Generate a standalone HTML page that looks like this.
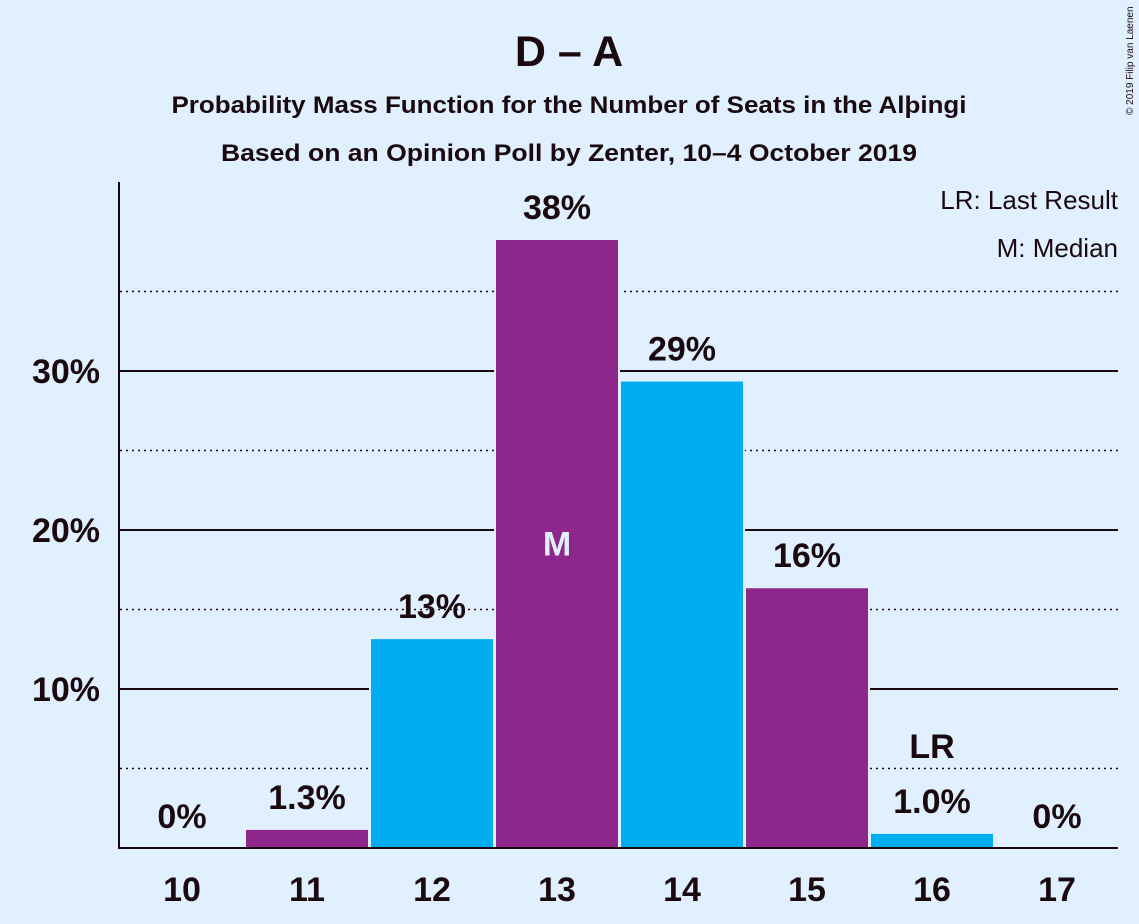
<!DOCTYPE html>
<html><head><meta charset="utf-8"><style>
html,body{margin:0;padding:0;background:#e1f0ff;}
svg{display:block;font-family:"Liberation Sans",sans-serif;}
</style></head><body>
<svg id="chart" width="1139" height="924" viewBox="0 0 1139 924">
<rect width="1139" height="924" fill="#e1f0ff"/>
<text x="569" y="66" text-anchor="middle" font-size="43" font-weight="bold" fill="#1a0a0f">D – A</text>
<text x="569" y="113" text-anchor="middle" font-size="24" font-weight="bold" fill="#1a0a0f" textLength="795" lengthAdjust="spacingAndGlyphs">Probability Mass Function for the Number of Seats in the Alþingi</text>
<text x="569" y="161" text-anchor="middle" font-size="24" font-weight="bold" fill="#1a0a0f" textLength="696" lengthAdjust="spacingAndGlyphs">Based on an Opinion Poll by Zenter, 10–4 October 2019</text>
<text x="1133" y="115" font-size="10" fill="#1a0a0f" transform="rotate(-90 1133 115)">© 2019 Filip van Laenen</text>
<text x="1118" y="209" text-anchor="end" font-size="26" fill="#1a0a0f">LR: Last Result</text>
<text x="1118" y="257" text-anchor="end" font-size="26" fill="#1a0a0f">M: Median</text>
<g id="grid"></g>
<g id="bars"></g>
<g id="labels"></g>
<line x1="119" y1="182" x2="119" y2="849" stroke="#1a0a0f" stroke-width="2"/>
<line x1="118" y1="848" x2="1118" y2="848" stroke="#1a0a0f" stroke-width="2"/>
</svg>
<script>
const categories = [10, 11, 12, 13, 14, 15, 16, 17];
const values = [0, 1.2, 13.2, 38.3, 29.4, 16.4, 0.95, 0];
const valueLabels = ["0%", "1.3%", "13%", "38%", "29%", "16%", "1.0%", "0%"];
const yTicks = [10, 20, 30];
const yTickLabels = ["10%", "20%", "30%"];
const minorTicks = [5, 15, 25, 35];
const medianSeat = 13;
const lastResultSeat = 16;

const NS = "http://www.w3.org/2000/svg";
const y0 = 848, pxPerPct = 15.9;
const yScale = v => y0 - v * pxPerPct;
const xCenter = c => 182 + (c - categories[0]) * 125;
function mk(tag, attrs, parent) {
  const e = document.createElementNS(NS, tag);
  for (const k in attrs) e.setAttribute(k, attrs[k]);
  parent.appendChild(e);
  return e;
}
const grid = document.getElementById("grid");
const bars = document.getElementById("bars");
const labels = document.getElementById("labels");
minorTicks.forEach(t => {
  const l = mk("line", {x1: 120, x2: 1118, y1: yScale(t), y2: yScale(t), stroke: "#1a0a0f", "stroke-width": 1.5, "stroke-dasharray": "2,4"}, grid);
  
  
});
yTicks.forEach((t, i) => {
  const l = mk("line", {x1: 120, x2: 1118, y1: yScale(t), y2: yScale(t), stroke: "#1a0a0f", "stroke-width": 2}, grid);
  
  
  const tx = mk("text", {x: 100, y: yScale(t) + 12, "text-anchor": "end", "font-size": 34, "font-weight": "bold", fill: "#1a0a0f"}, labels);
  tx.textContent = yTickLabels[i];
  
  
});
categories.forEach((c, i) => {
  const cx = xCenter(c);
  const color = (i % 2 === 1) ? "#8e278c" : "#00aeef";
  const v = values[i];
  if (v > 0) {
    const r = mk("rect", {x: cx - 62, y: yScale(v), width: 124, height: y0 - yScale(v), fill: color, stroke: "#e1f0ff", "stroke-width": 2}, bars);
    
    
  }
  const lbl = mk("text", {x: cx, y: yScale(v) - 20, "text-anchor": "middle", "font-size": 34, "font-weight": "bold", fill: "#1a0a0f"}, labels);
  lbl.textContent = valueLabels[i];
  
  
  const xt = mk("text", {x: cx, y: 901, "text-anchor": "middle", "font-size": 34, "font-weight": "bold", fill: "#1a0a0f"}, labels);
  xt.textContent = c;
  
  
  if (c === medianSeat) {
    const m = mk("text", {x: cx, y: yScale(v / 2) + 12, "text-anchor": "middle", "font-size": 34, "font-weight": "bold", fill: "#e1f0ff"}, labels);
    m.textContent = "M";
    
    
  }
  if (c === lastResultSeat) {
    const lr = mk("text", {x: cx, y: yScale(v) - 75, "text-anchor": "middle", "font-size": 34, "font-weight": "bold", fill: "#1a0a0f"}, labels);
    lr.textContent = "LR";
    
    
  }
});
</script>
</body></html>
